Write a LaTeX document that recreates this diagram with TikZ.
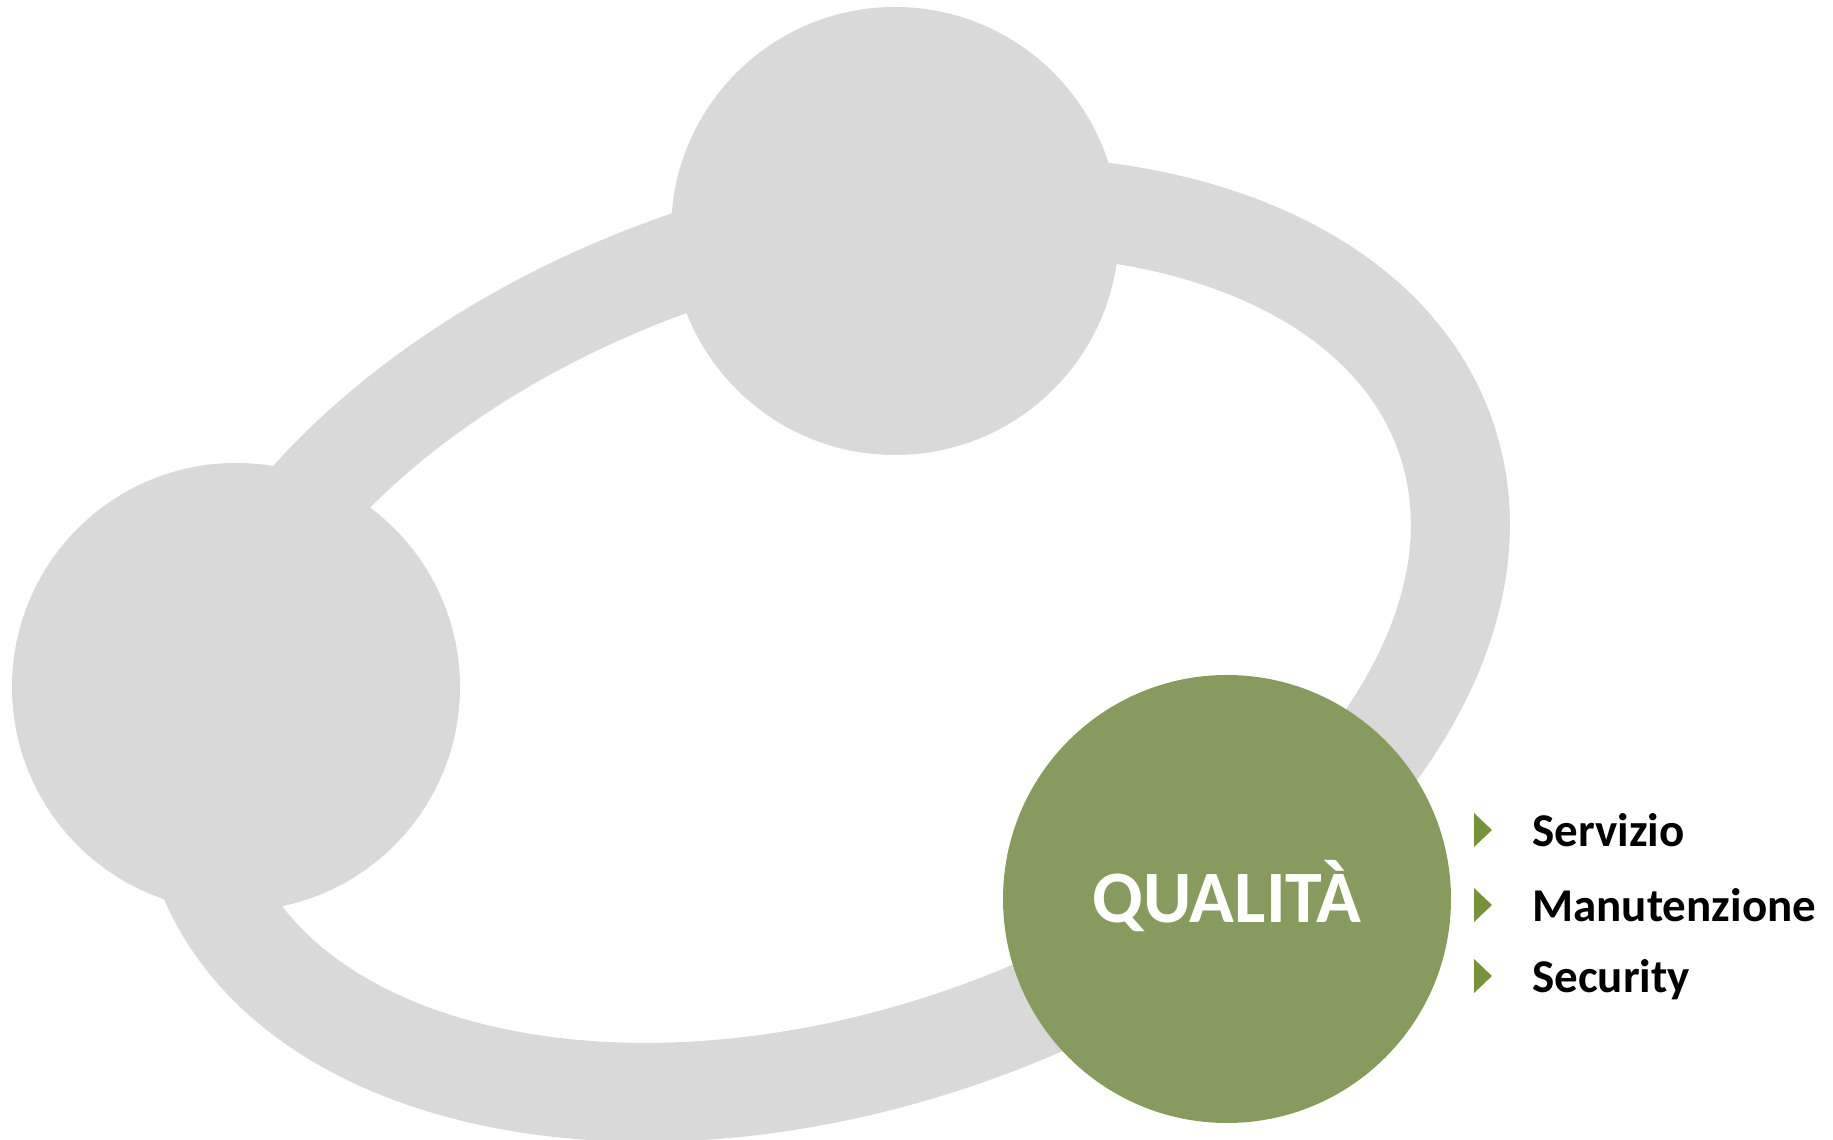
\documentclass[tikz,border=0pt]{standalone}
\usepackage{fontspec}
\setmainfont{Carlito}
\usetikzlibrary{positioning, calc}
\definecolor{ringGray}{HTML}{D9D9D9}
\definecolor{qualityGreen}{HTML}{879B5E}
\definecolor{bulletGreen}{HTML}{76923C}

\begin{document}
\begin{tikzpicture}[x=0.5pt, y=0.5pt,
    bubble/.style={circle,inner sep=0pt,minimum size=224pt,fill=ringGray},
    item/.style={anchor=base west,inner sep=0pt,font=\fontsize{23.5}{28}\selectfont\bfseries}
]
    \useasboundingbox (0,0) rectangle (1833,1140);

    % Ring
    \draw[ringGray,line width=49.5pt,rotate around={18.65:(824,491)}]
        (824,491) ellipse [x radius=657, y radius=412];

    % Circles
    \node[bubble] (top) at (895,909) {};
    \node[bubble] (left) at (236,453) {};
    \node[bubble,fill=qualityGreen,text=white,font=\fontsize{37}{40}\selectfont\bfseries,
          text height=24pt,text depth=0pt] (quality) at (1227,241) {QUALITÀ};

    % List
    \node[item] (servizio) at (1532,293) {Servizio};
    \node[item] (manutenzione) at (1532,218) {Manutenzione};
    \node[item] (security) at (1532,147) {Security};

    % Bullets
    \foreach \n in {servizio,manutenzione,security}
        \fill[bulletGreen] ($(\n.base west)+(-58,0)$) -- ++(0,34) -- ++(18,-17) -- cycle;
\end{tikzpicture}
\end{document}
